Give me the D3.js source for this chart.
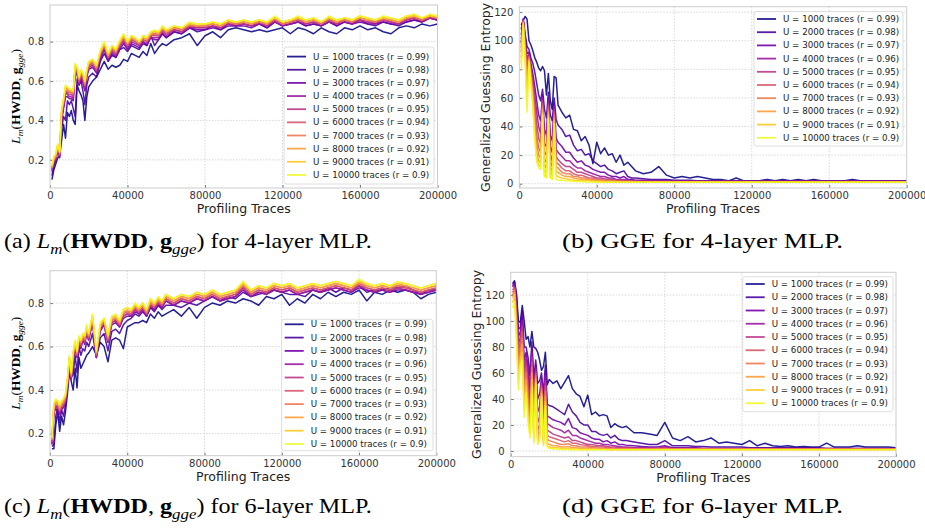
<!DOCTYPE html>
<html>
<head>
<meta charset="utf-8">
<script src="https://cdn.jsdelivr.net/npm/d3@7"></script>
<style>
  body { margin: 0; background: #fff; }
  svg { display: block; }
</style>
</head>
<body>
<svg id="fig" width="925" height="531"></svg>
<script>
// profiling trace counts (shared x grid for every series)
const traces = [1000,2000,3000,4000,5000,6000,7000,8000,9000,10000,11000,12000,13000,14000,15000,16000,17000,18000,19000,20000,
  22000,24000,26000,28000,30000,32000,34000,36000,38000,40000,42000,44000,46000,48000,50000,52000,54000,56000,58000,60000,
  64000,68000,72000,76000,80000,84000,88000,92000,96000,100000,104000,108000,112000,116000,120000,124000,128000,132000,136000,140000,
  144000,148000,152000,156000,160000,164000,168000,172000,176000,180000,184000,188000,192000,196000,200000];

const budgets = [1000, 2000, 3000, 4000, 5000, 6000, 7000, 8000, 9000, 10000];
const corrs = ['0.99', '0.98', '0.97', '0.96', '0.95', '0.94', '0.93', '0.92', '0.91', '0.9'];

const xTicks = [0, 40000, 80000, 120000, 160000, 200000];
const lmTicks = [0.2, 0.4, 0.6, 0.8];
const ggeTicks = [0, 20, 40, 60, 80, 100, 120];

// (a) L_m for 4-layer MLP, one row per budget U
const lm4 = [
  [0.10,0.15,0.18,0.21,0.22,0.30,0.38,0.31,0.44,0.42,0.45,0.40,0.38,0.58,0.55,0.53,0.50,0.40,0.52,0.57,
   0.60,0.62,0.66,0.70,0.66,0.68,0.67,0.68,0.71,0.70,0.74,0.73,0.72,0.75,0.73,0.79,0.74,0.77,0.79,0.78,
   0.81,0.82,0.84,0.78,0.83, 0.85,0.82,0.86,0.87,0.86, 0.85,0.86,0.85,0.86,0.87, 0.84,0.87,0.86,0.84,0.87, 0.85,0.84,0.87,0.86,0.88, 0.86,0.87,0.85,0.84,0.87, 0.88,0.87,0.89,0.88,0.89],
  [0.12,0.17,0.20,0.26,0.23,0.36,0.42,0.40,0.50,0.48,0.50,0.46,0.42,0.61,0.58,0.60,0.55,0.48,0.58,0.62,
   0.64,0.62,0.70,0.74,0.70,0.73,0.72,0.76,0.77,0.75,0.78,0.77,0.76,0.79,0.78,0.83,0.78,0.81,0.84,0.82,
   0.85,0.84,0.87,0.85,0.86, 0.88,0.86,0.89,0.88,0.89, 0.88,0.89,0.87,0.90,0.88, 0.89,0.90,0.88,0.89,0.88, 0.90,0.88,0.90,0.89,0.91, 0.89,0.88,0.90,0.89,0.88, 0.90,0.91,0.90,0.92,0.91],
  [0.14,0.18,0.20,0.25,0.21,0.40,0.46,0.52,0.52,0.51,0.51,0.50,0.64,0.63,0.58,0.61,0.59,0.55,0.62,0.66,
   0.67,0.64,0.71,0.76,0.70,0.74,0.72,0.76,0.79,0.76,0.79,0.78,0.77,0.80,0.78,0.82,0.81,0.81,0.84,0.82,
   0.85,0.84,0.87,0.86,0.86, 0.87,0.86,0.88,0.88,0.88, 0.87,0.89,0.87,0.90,0.88, 0.89,0.90,0.88,0.89,0.88, 0.90,0.88,0.90,0.89,0.90, 0.89,0.89,0.90,0.89,0.89, 0.90,0.91,0.90,0.92,0.91],
  [0.15,0.19,0.20,0.26,0.22,0.41,0.47,0.54,0.53,0.52,0.52,0.51,0.65,0.64,0.59,0.62,0.60,0.56,0.63,0.67,
   0.68,0.65,0.72,0.77,0.71,0.75,0.73,0.77,0.80,0.77,0.80,0.79,0.78,0.80,0.79,0.82,0.82,0.82,0.85,0.83,
   0.86,0.85,0.87,0.87,0.87, 0.88,0.87,0.89,0.88,0.89, 0.88,0.89,0.88,0.90,0.88, 0.89,0.90,0.89,0.90,0.88, 0.90,0.89,0.90,0.89,0.91, 0.90,0.89,0.91,0.90,0.89, 0.91,0.92,0.90,0.92,0.91],
  [0.15,0.19,0.21,0.26,0.22,0.42,0.48,0.55,0.54,0.53,0.53,0.52,0.66,0.65,0.59,0.63,0.61,0.57,0.63,0.68,
   0.69,0.65,0.73,0.77,0.72,0.76,0.74,0.78,0.81,0.78,0.81,0.80,0.78,0.81,0.80,0.83,0.83,0.83,0.86,0.84,
   0.86,0.85,0.88,0.87,0.87, 0.88,0.87,0.89,0.89,0.89, 0.88,0.90,0.88,0.91,0.89, 0.90,0.91,0.89,0.90,0.89, 0.91,0.89,0.91,0.90,0.91, 0.90,0.90,0.91,0.90,0.89, 0.91,0.92,0.91,0.92,0.92],
  [0.16,0.20,0.21,0.27,0.23,0.43,0.49,0.55,0.55,0.54,0.54,0.53,0.67,0.65,0.60,0.64,0.62,0.58,0.64,0.68,
   0.69,0.66,0.74,0.78,0.72,0.76,0.74,0.79,0.82,0.78,0.81,0.80,0.79,0.81,0.80,0.83,0.84,0.83,0.86,0.84,
   0.87,0.86,0.88,0.88,0.88, 0.89,0.88,0.90,0.89,0.90, 0.89,0.90,0.89,0.91,0.89, 0.90,0.91,0.90,0.91,0.89, 0.91,0.90,0.91,0.90,0.92, 0.91,0.90,0.91,0.91,0.90, 0.92,0.92,0.91,0.93,0.92],
  [0.16,0.20,0.22,0.27,0.23,0.44,0.50,0.56,0.56,0.55,0.54,0.54,0.67,0.66,0.61,0.64,0.63,0.58,0.65,0.69,
   0.70,0.67,0.74,0.78,0.73,0.77,0.75,0.79,0.82,0.79,0.82,0.81,0.79,0.82,0.81,0.84,0.84,0.84,0.87,0.85,
   0.87,0.86,0.89,0.88,0.88, 0.89,0.88,0.90,0.89,0.90, 0.89,0.90,0.89,0.92,0.89, 0.90,0.92,0.90,0.91,0.89, 0.92,0.90,0.91,0.90,0.92, 0.91,0.90,0.92,0.91,0.90, 0.92,0.93,0.91,0.93,0.92],
  [0.16,0.21,0.22,0.27,0.24,0.45,0.50,0.57,0.56,0.55,0.55,0.54,0.68,0.66,0.61,0.65,0.63,0.59,0.65,0.69,
   0.70,0.67,0.75,0.79,0.73,0.77,0.75,0.80,0.83,0.79,0.82,0.81,0.80,0.82,0.81,0.84,0.85,0.84,0.87,0.85,
   0.87,0.87,0.89,0.88,0.89, 0.89,0.88,0.90,0.90,0.90, 0.89,0.91,0.89,0.92,0.90, 0.91,0.92,0.90,0.91,0.90, 0.92,0.90,0.92,0.91,0.92, 0.91,0.91,0.92,0.91,0.90, 0.92,0.93,0.92,0.93,0.92],
  [0.17,0.21,0.23,0.28,0.24,0.45,0.51,0.57,0.57,0.56,0.55,0.55,0.68,0.67,0.62,0.65,0.64,0.60,0.66,0.70,
   0.71,0.68,0.75,0.79,0.74,0.78,0.76,0.80,0.83,0.80,0.83,0.82,0.80,0.83,0.82,0.85,0.85,0.85,0.87,0.86,
   0.88,0.87,0.89,0.89,0.89, 0.90,0.89,0.91,0.90,0.91, 0.90,0.91,0.90,0.92,0.90, 0.91,0.92,0.91,0.92,0.90, 0.92,0.91,0.92,0.91,0.93, 0.92,0.91,0.92,0.92,0.91, 0.93,0.93,0.92,0.93,0.93],
  [0.17,0.22,0.23,0.28,0.24,0.46,0.51,0.58,0.57,0.56,0.56,0.55,0.69,0.67,0.62,0.66,0.64,0.60,0.66,0.70,
   0.71,0.68,0.76,0.80,0.74,0.78,0.76,0.81,0.84,0.80,0.83,0.82,0.80,0.83,0.82,0.85,0.86,0.85,0.88,0.86,
   0.88,0.87,0.90,0.89,0.89, 0.90,0.89,0.91,0.90,0.91, 0.90,0.91,0.90,0.93,0.90, 0.91,0.93,0.91,0.92,0.90, 0.93,0.91,0.92,0.91,0.93, 0.92,0.91,0.93,0.92,0.91, 0.93,0.94,0.92,0.94,0.93]
];

// (b) GGE for 4-layer MLP
const gge4 = [
  [111,114,117,115,100,97,93,88,85,81,79,82,79,62,77,58,52,75,74,55,
   50,46,48,38,37,30,33,27,14,29,21,25,20,21,15,20,13,15,12,9,
   7,8,12,6,4, 5,4,5,4,3, 3,2,4,2,2, 2,3,2,3,2, 3,2,3,2,2, 2,2,3,2,2, 2,2,2,2,2],
  [108,115,105,96,94,88,84,78,70,62,58,66,52,46,64,48,44,60,45,41,
   38,33,34,27,23,24,20,21,16,14,12,13,10,9,7,8,9,5,4,4,
   3.5,3,3,3,2.5, 2.5,2.5,2,2,2, 2,2,2,2,2, 2,2,2,2,2, 2,2,2,2,2, 2,2,2,2,2, 2,2,2,2,2],
  [104,115,103,91,92,84,77,68,58,48,44,62,38,34,60,34,30,56,32,29,
   26,22,22,18,15,16,13,12,10,9,8,8,6,5,5,4,5,3,3,2.5,
   2.5,2,2,2,2, 2,2,1.8,1.8,1.8, 1.8,1.8,1.8,1.8,1.8, 1.8,1.8,1.8,1.8,1.8, 1.8,1.8,1.8,1.8,1.8, 1.8,1.8,1.8,1.8,1.8, 1.8,1.8,1.8,1.8,1.8],
  [101,115,101,87,91,82,73,62,50,40,35,60,28,26,58,26,22,54,24,22,
   19,16,16,13,11,11,9,8,7,6,5,5,4,4,3,3,3,2.5,2,2,
   2,1.8,1.8,1.8,1.6, 1.6,1.6,1.6,1.6,1.6, 1.6,1.6,1.6,1.6,1.6, 1.6,1.6,1.6,1.6,1.6, 1.6,1.6,1.6,1.6,1.6, 1.6,1.6,1.6,1.6,1.6, 1.6,1.6,1.6,1.6,1.6],
  [98,114,99,82,90,80,70,57,42,32,28,58,22,20,56,20,16,52,19,17,
   14,12,12,10,8,8,7,6,5,4,4,3.5,3,3,2.5,2.5,2,2,2,1.5,
   1.5,1.5,1.5,1.5,1.5, 1.5,1.5,1.5,1.5,1.5, 1.5,1.5,1.5,1.5,1.5, 1.5,1.5,1.5,1.5,1.5, 1.5,1.5,1.5,1.5,1.5, 1.5,1.5,1.5,1.5,1.5, 1.5,1.5,1.5,1.5,1.5],
  [95,114,97,76,89,78,67,52,34,25,22,56,17,15,54,15,12,50,15,14,
   11,9,9,7,6,6,5,4,4,3,3,2.5,2.5,2,2,2,1.5,1.5,1.5,1.5,
   1.4,1.4,1.4,1.4,1.4, 1.4,1.4,1.4,1.4,1.4, 1.4,1.4,1.4,1.4,1.4, 1.4,1.4,1.4,1.4,1.4, 1.4,1.4,1.4,1.4,1.4, 1.4,1.4,1.4,1.4,1.4, 1.4,1.4,1.4,1.4,1.4],
  [92,113,95,70,88,76,64,46,28,20,18,54,13,11,52,11,9,48,12,11,
   8,7,7,5,5,4,4,3,3,2.5,2.5,2,2,2,1.5,1.5,1.5,1.5,1.5,1.3,
   1.3,1.3,1.3,1.3,1.3, 1.3,1.3,1.3,1.3,1.3, 1.3,1.3,1.3,1.3,1.3, 1.3,1.3,1.3,1.3,1.3, 1.3,1.3,1.3,1.3,1.3, 1.3,1.3,1.3,1.3,1.3, 1.3,1.3,1.3,1.3,1.3],
  [88,113,93,64,87,74,60,40,22,16,15,52,9,8,50,8,6,46,9,8,
   6,5,5,4,3.5,3,3,2.5,2,2,2,1.5,1.5,1.5,1.5,1.2,1.2,1.2,1.2,1.2,
   1.2,1.2,1.2,1.2,1.2, 1.2,1.2,1.2,1.2,1.2, 1.2,1.2,1.2,1.2,1.2, 1.2,1.2,1.2,1.2,1.2, 1.2,1.2,1.2,1.2,1.2, 1.2,1.2,1.2,1.2,1.2, 1.2,1.2,1.2,1.2,1.2],
  [84,112,90,58,86,72,56,34,18,13,12,50,6,5,48,5,4,44,6,5,
   4,3.5,3,2.5,2.5,2,2,2,1.5,1.5,1.5,1.2,1.2,1.2,1.2,1.1,1.1,1.1,1.1,1.1,
   1.1,1.1,1.1,1.1,1.1, 1.1,1.1,1.1,1.1,1.1, 1.1,1.1,1.1,1.1,1.1, 1.1,1.1,1.1,1.1,1.1, 1.1,1.1,1.1,1.1,1.1, 1.1,1.1,1.1,1.1,1.1, 1.1,1.1,1.1,1.1,1.1],
  [80,111,85,50,85,70,52,30,15,11,10,48,5,4,46,4,3,42,3,2.5,
   2.5,2,2,1.5,1.5,1.5,1.2,1.2,1.2,1,1,1,1,1,1,1,1,1,1,1,
   1,1,1,1,1, 1,1,1,1,1, 1,1,1,1,1, 1,1,1,1,1, 1,1,1,1,1, 1,1,1,1,1, 1,1,1,1,1]
];

// (c) L_m for 6-layer MLP
const lm6 = [
  [0.13,0.13,0.24,0.30,0.21,0.28,0.24,0.30,0.38,0.48,0.44,0.40,0.50,0.41,0.55,0.50,0.52,0.54,0.56,0.57,
   0.60,0.56,0.62,0.60,0.53,0.63,0.64,0.63,0.59,0.69,0.70,0.71,0.71,0.72,0.71,0.75,0.73,0.76,0.74,0.75,
   0.77,0.74,0.78,0.73,0.78, 0.80,0.79,0.81,0.80,0.82, 0.81,0.79,0.83,0.82,0.84, 0.79,0.82,0.80,0.84,0.82, 0.85,0.83,0.85,0.84,0.86, 0.81,0.85,0.84,0.86,0.85, 0.86,0.85,0.82,0.84,0.85],
  [0.14,0.15,0.28,0.33,0.25,0.31,0.28,0.33,0.42,0.52,0.46,0.47,0.56,0.48,0.60,0.56,0.59,0.58,0.62,0.60,
   0.66,0.55,0.64,0.66,0.58,0.67,0.68,0.66,0.70,0.72,0.73,0.75,0.74,0.76,0.74,0.78,0.76,0.79,0.77,0.79,
   0.79,0.78,0.80,0.79,0.81, 0.83,0.81,0.83,0.82,0.85, 0.83,0.84,0.85,0.86,0.85, 0.84,0.84,0.83,0.86,0.85, 0.87,0.85,0.87,0.86,0.88, 0.85,0.86,0.86,0.87,0.87, 0.88,0.86,0.84,0.86,0.86],
  [0.15,0.30,0.31,0.31,0.29,0.31,0.32,0.34,0.41,0.52,0.45,0.54,0.59,0.55,0.61,0.59,0.63,0.61,0.66,0.63,
   0.71,0.55,0.67,0.70,0.62,0.70,0.71,0.69,0.73,0.74,0.74,0.76,0.75,0.77,0.74,0.78,0.77,0.79,0.78,0.81,
   0.79,0.81,0.80,0.82,0.81, 0.83,0.81,0.82,0.83,0.86, 0.83,0.85,0.84,0.86,0.85, 0.86,0.84,0.85,0.86,0.85, 0.86,0.87,0.86,0.85,0.87, 0.86,0.85,0.86,0.85,0.86, 0.86,0.85,0.84,0.85,0.86],
  [0.15,0.30,0.32,0.32,0.29,0.32,0.32,0.35,0.41,0.53,0.45,0.55,0.60,0.55,0.62,0.60,0.63,0.62,0.67,0.63,
   0.72,0.55,0.68,0.70,0.62,0.71,0.72,0.69,0.74,0.75,0.74,0.77,0.75,0.77,0.74,0.79,0.77,0.80,0.78,0.81,
   0.79,0.81,0.80,0.82,0.81, 0.83,0.81,0.82,0.83,0.87, 0.83,0.85,0.84,0.86,0.85, 0.86,0.84,0.85,0.86,0.85, 0.86,0.87,0.86,0.85,0.88, 0.86,0.85,0.86,0.85,0.87, 0.86,0.85,0.84,0.85,0.86],
  [0.16,0.31,0.33,0.32,0.30,0.32,0.33,0.35,0.42,0.53,0.46,0.55,0.60,0.56,0.62,0.60,0.64,0.62,0.67,0.64,
   0.72,0.56,0.68,0.71,0.63,0.71,0.72,0.70,0.74,0.75,0.75,0.77,0.76,0.78,0.75,0.79,0.78,0.80,0.79,0.82,
   0.80,0.82,0.81,0.83,0.82, 0.84,0.82,0.83,0.84,0.87, 0.84,0.86,0.85,0.87,0.86, 0.87,0.85,0.86,0.87,0.86, 0.87,0.88,0.87,0.86,0.88, 0.87,0.86,0.87,0.86,0.87, 0.87,0.86,0.85,0.86,0.87],
  [0.16,0.32,0.33,0.33,0.31,0.33,0.34,0.36,0.43,0.54,0.46,0.56,0.61,0.56,0.63,0.61,0.64,0.63,0.68,0.64,
   0.73,0.56,0.69,0.71,0.63,0.72,0.73,0.70,0.75,0.76,0.75,0.78,0.76,0.78,0.75,0.80,0.78,0.81,0.79,0.82,
   0.80,0.82,0.81,0.83,0.82, 0.84,0.82,0.83,0.84,0.88, 0.84,0.86,0.85,0.87,0.86, 0.87,0.85,0.86,0.87,0.86, 0.87,0.88,0.87,0.86,0.89, 0.87,0.86,0.87,0.86,0.88, 0.87,0.86,0.85,0.86,0.87],
  [0.17,0.32,0.34,0.34,0.31,0.34,0.34,0.37,0.43,0.54,0.47,0.56,0.61,0.57,0.63,0.62,0.65,0.63,0.68,0.65,
   0.73,0.57,0.69,0.72,0.64,0.72,0.73,0.71,0.76,0.76,0.76,0.78,0.77,0.79,0.76,0.80,0.79,0.81,0.80,0.83,
   0.81,0.83,0.82,0.84,0.83, 0.85,0.83,0.84,0.85,0.88, 0.85,0.87,0.86,0.88,0.87, 0.88,0.86,0.87,0.88,0.87, 0.88,0.89,0.88,0.87,0.89, 0.88,0.87,0.88,0.87,0.88, 0.88,0.87,0.86,0.87,0.88],
  [0.17,0.33,0.35,0.34,0.32,0.34,0.35,0.37,0.44,0.55,0.47,0.57,0.62,0.57,0.64,0.62,0.65,0.64,0.69,0.65,
   0.74,0.57,0.70,0.72,0.64,0.73,0.74,0.71,0.76,0.77,0.76,0.79,0.77,0.79,0.76,0.81,0.79,0.82,0.80,0.83,
   0.81,0.83,0.82,0.84,0.83, 0.85,0.83,0.84,0.85,0.89, 0.85,0.87,0.86,0.88,0.87, 0.88,0.86,0.87,0.88,0.87, 0.88,0.89,0.88,0.87,0.90, 0.88,0.87,0.88,0.87,0.89, 0.88,0.87,0.86,0.87,0.88],
  [0.18,0.34,0.35,0.35,0.33,0.35,0.36,0.38,0.45,0.55,0.48,0.57,0.62,0.58,0.64,0.63,0.66,0.65,0.69,0.66,
   0.74,0.58,0.70,0.73,0.65,0.74,0.74,0.72,0.77,0.78,0.77,0.79,0.78,0.80,0.77,0.82,0.80,0.82,0.81,0.84,
   0.82,0.84,0.83,0.85,0.84, 0.86,0.84,0.85,0.86,0.89, 0.86,0.88,0.87,0.89,0.88, 0.89,0.87,0.88,0.89,0.88, 0.89,0.90,0.89,0.88,0.90, 0.89,0.88,0.89,0.88,0.89, 0.89,0.88,0.87,0.88,0.89],
  [0.18,0.34,0.36,0.35,0.33,0.35,0.36,0.38,0.45,0.56,0.48,0.58,0.63,0.58,0.65,0.63,0.66,0.65,0.70,0.66,
   0.75,0.58,0.71,0.73,0.65,0.74,0.75,0.72,0.77,0.78,0.77,0.80,0.78,0.80,0.77,0.82,0.80,0.83,0.81,0.84,
   0.82,0.84,0.83,0.85,0.84, 0.86,0.84,0.85,0.86,0.90, 0.86,0.88,0.87,0.89,0.88, 0.89,0.87,0.88,0.89,0.88, 0.89,0.90,0.89,0.88,0.91, 0.89,0.88,0.89,0.88,0.90, 0.89,0.88,0.87,0.88,0.89]
];

// (d) GGE for 6-layer MLP
const gge6 = [
  [129,131,121,100,99,112,100,86,88,80,92,80,79,76,70,62,65,76,51,55,
   52,54,48,53,58,48,44,42,34,43,28,30,27,28,27,18,21,19,18,19,
   14,14,13,12,22, 10,8,11,7,8, 10,6,7,6,5, 8,4,6,4,3.5, 4,3,3.5,3,3, 6,3,3,3,4, 3,3,3,3,2.5],
  [128,130,119,94,95,108,80,80,72,58,84,56,70,52,54,60,44,66,36,35,
   34,32,30,28,36,30,27,22,20,20,15,15,13,12,13,10,12,9,8,8,
   7,6,5,5,8, 4,4,4,3.5,3.5, 3,3,3,3,3, 2.5,2.5,2.5,2.5,2.5, 2.5,2.5,2.5,2.5,2.5, 2,2,2,2,2, 2,2,2,2,2],
  [127,129,116,88,92,104,70,76,64,48,80,44,66,40,44,56,32,62,27,26,
   24,23,22,20,25,18,17,14,13,12,10,9,9,7,8,6,7,5,5,4.5,
   4,3.5,3,3,4, 2.5,2.5,2.5,2.5,2, 2,2,2,2,2, 2,2,2,2,2, 2,2,2,2,2, 2,2,2,2,2, 2,2,2,2,2],
  [126,128,112,82,88,100,62,72,58,40,76,34,64,30,34,54,24,58,21,20,
   18,17,16,14,16,12,12,10,9,8,7,6,6,5,5,4.5,4,3.5,3,3,
   2.5,2.5,2.5,2,3, 2,2,2,2,2, 1.8,1.8,1.8,1.8,1.8, 1.8,1.8,1.8,1.8,1.8, 1.8,1.8,1.8,1.8,1.8, 1.8,1.8,1.8,1.8,1.8, 1.8,1.8,1.8,1.8,1.8],
  [124,126,108,76,84,96,56,68,52,33,72,26,62,22,26,52,16,54,16,15,
   13,12,11,10,11,8,8,7,6,5,5,4.5,4,4,3.5,3,3,2.5,2.5,2.5,
   2,2,2,2,2.5, 1.8,1.8,1.8,1.8,1.8, 1.5,1.5,1.5,1.5,1.5, 1.5,1.5,1.5,1.5,1.5, 1.5,1.5,1.5,1.5,1.5, 1.5,1.5,1.5,1.5,1.5, 1.5,1.5,1.5,1.5,1.5],
  [122,125,104,70,80,92,50,64,46,27,68,20,60,16,20,50,12,50,12,11,
   10,9,8,7,8,6,6,5,4.5,4,3.5,3.5,3,3,2.5,2.5,2,2,2,2,
   1.8,1.8,1.8,1.8,2, 1.5,1.5,1.5,1.5,1.5, 1.5,1.5,1.5,1.5,1.5, 1.5,1.5,1.5,1.5,1.5, 1.5,1.5,1.5,1.5,1.5, 1.5,1.5,1.5,1.5,1.5, 1.5,1.5,1.5,1.5,1.5],
  [120,124,100,64,76,87,44,60,40,22,64,15,58,12,16,48,9,46,9,8,
   7,6,5,5,5.5,4,4,3,3,3,2.5,2.5,2,2,2,1.5,1.5,1.5,1.5,1.5,
   1.3,1.3,1.3,1.3,1.3, 1.3,1.3,1.3,1.3,1.3, 1.3,1.3,1.3,1.3,1.3, 1.3,1.3,1.3,1.3,1.3, 1.3,1.3,1.3,1.3,1.3, 1.3,1.3,1.3,1.3,1.3, 1.3,1.3,1.3,1.3,1.3],
  [118,122,95,58,73,82,38,55,34,17,60,11,56,9,12,46,7,42,6,5,
   4,4,3,3,3.5,2.5,2.5,2,2,2,1.5,1.5,1.5,1.5,1.2,1.2,1.2,1.2,1.2,1.2,
   1.2,1.2,1.2,1.2,1.2, 1.2,1.2,1.2,1.2,1.2, 1.2,1.2,1.2,1.2,1.2, 1.2,1.2,1.2,1.2,1.2, 1.2,1.2,1.2,1.2,1.2, 1.2,1.2,1.2,1.2,1.2, 1.2,1.2,1.2,1.2,1.2],
  [114,120,90,52,70,76,32,50,28,13,55,8,54,7,10,44,5,38,4,3,
   2.5,2.5,2,2,2,1.5,1.5,1.2,1.2,1.2,1.1,1.1,1.1,1.1,1.1,1.1,1.1,1.1,1.1,1.1,
   1.1,1.1,1.1,1.1,1.1, 1.1,1.1,1.1,1.1,1.1, 1.1,1.1,1.1,1.1,1.1, 1.1,1.1,1.1,1.1,1.1, 1.1,1.1,1.1,1.1,1.1, 1.1,1.1,1.1,1.1,1.1, 1.1,1.1,1.1,1.1,1.1],
  [110,115,85,47,67,70,26,45,22,10,50,6,52,5,8,42,4,35,3,2,
   1.5,1.5,1.2,1.2,1.2,1,1,1,1,1,1,1,1,1,1,1,1,1,1,1,
   1,1,1,1,1, 1,1,1,1,1, 1,1,1,1,1, 1,1,1,1,1, 1,1,1,1,1, 1,1,1,1,1, 1,1,1,1,1]
];

const fig = d3.select('#fig');
fig.append('rect').attr('width', 925).attr('height', 531).attr('fill', '#fff');

const colors = budgets.map((b, i) => d3.interpolatePlasma(i / 9));
const sans = '"DejaVu Sans", sans-serif';
const serif = '"Liberation Serif", "Times New Roman", serif';

// italic L_m ( bold HWDD , bold g _gge )
const lmParts = [
  {t: 'L', italic: true}, {t: 'm', italic: true, sub: true}, {t: '('},
  {t: 'HWDD', bold: true}, {t: ', '}, {t: 'g', bold: true},
  {t: 'gge', italic: true, sub: true}, {t: ')'}
];

function richText(parent, parts, size) {
  const txt = parent.append('text')
    .attr('font-family', serif)
    .attr('font-size', size)
    .attr('fill', '#000')
    .style('white-space', 'pre');
  let shift = 0;
  parts.forEach(p => {
    const target = p.sub ? size * 0.25 : 0;
    const ts = txt.append('tspan').text(p.t).attr('dy', target - shift);
    shift = target;
    if (p.sub) ts.attr('font-size', size * 0.7);
    if (p.italic) ts.attr('font-style', 'italic');
    if (p.bold) ts.attr('font-weight', 'bold');
  });
  return txt;
}

function drawPanel(p) {
  const g = fig.append('g');
  const x = d3.scaleLinear().domain([0, 200000]).range([p.left, p.right]);
  const y = d3.scaleLinear().domain(p.yDomain).range([p.bottom, p.top]);

  // grid
  g.append('g').selectAll('line').data(xTicks.slice(1, -1)).join('line')
    .attr('x1', d => x(d)).attr('x2', d => x(d))
    .attr('y1', p.top).attr('y2', p.bottom);
  g.append('g').selectAll('line').data(p.yTicks).join('line')
    .attr('x1', p.left).attr('x2', p.right)
    .attr('y1', d => y(d)).attr('y2', d => y(d));
  g.selectAll('g line')
    .attr('stroke', '#cfcfcf').attr('stroke-width', 0.8).attr('stroke-dasharray', '1.5,1.5');

  // axes, ticks pointing inwards
  const xa = g.append('g').attr('transform', `translate(0,${p.bottom})`)
    .call(d3.axisBottom(x).tickValues(xTicks).tickFormat(d3.format('d')).tickSize(-3).tickPadding(4));
  const ya = g.append('g').attr('transform', `translate(${p.left},0)`)
    .call(d3.axisLeft(y).tickValues(p.yTicks).tickFormat(p.fmt).tickSize(-3).tickPadding(6));
  [xa, ya].forEach(a => {
    a.select('.domain').remove();
    a.selectAll('line').attr('stroke', '#777');
    a.selectAll('text').attr('font-family', sans).attr('font-size', 10).attr('fill', '#333');
  });

  // series
  const clipId = 'clip' + p.id;
  g.append('clipPath').attr('id', clipId).append('rect')
    .attr('x', p.left).attr('y', p.top).attr('width', p.right - p.left).attr('height', p.bottom - p.top);
  const line = d3.line()
    .defined((d, i) => i < traces.length)
    .x((d, i) => x(traces[i]))
    .y(d => y(d));
  g.append('g').attr('clip-path', `url(#${clipId})`)
    .selectAll('path').data(p.data).join('path')
    .attr('d', line)
    .attr('fill', 'none')
    .attr('stroke', (d, i) => colors[i])
    .attr('stroke-width', 1.5)
    .attr('stroke-opacity', 0.9)
    .attr('stroke-linejoin', 'round');

  // frame
  g.append('rect')
    .attr('x', p.left).attr('y', p.top)
    .attr('width', p.right - p.left).attr('height', p.bottom - p.top)
    .attr('fill', 'none').attr('stroke', '#cccccc').attr('stroke-width', 1);

  // x label
  g.append('text')
    .attr('x', (p.left + p.right) / 2).attr('y', p.bottom + 25)
    .attr('text-anchor', 'middle')
    .attr('font-family', sans).attr('font-size', 12.5).attr('fill', '#222')
    .text('Profiling Traces');

  // y label
  const yl = g.append('g').attr('transform', `translate(${p.yLabelX},${(p.top + p.bottom) / 2}) rotate(-90)`);
  if (p.mathLabel) {
    const t = richText(yl, lmParts, 13).attr('text-anchor', 'middle');
    const w = t.node().getComputedTextLength();
    t.attr('transform', `scale(${p.yLabelLen / w},1)`);
  } else {
    yl.append('text').attr('text-anchor', 'middle')
      .attr('font-family', sans).attr('font-size', 12.5).attr('fill', '#222')
      .text('Generalized Guessing Entropy');
  }

  // legend
  const lg = p.legend;
  const leg = g.append('g');
  leg.append('rect')
    .attr('x', lg.x).attr('y', lg.y).attr('width', lg.w).attr('height', lg.h)
    .attr('rx', 2.5)
    .attr('fill', '#fff').attr('fill-opacity', 0.85)
    .attr('stroke', '#d6d6d6').attr('stroke-width', 0.8);
  const rows = leg.selectAll('g.row').data(budgets).join('g')
    .attr('transform', (d, i) => `translate(${lg.x + 3},${lg.y0 + i * lg.step})`);
  rows.append('line')
    .attr('x1', 0).attr('x2', 19)
    .attr('stroke', (d, i) => colors[i])
    .attr('stroke-width', 1.8).attr('stroke-opacity', 0.9);
  rows.append('text')
    .attr('x', 26).attr('dy', '0.35em')
    .attr('font-family', sans).attr('font-size', 8.7).attr('fill', '#222')
    .text((d, i) => `U = ${d} traces (r = ${corrs[i]})`);
}

const panels = [
  {id: 'a', data: lm4, left: 50, right: 437.5, top: 5, bottom: 188, yDomain: [0.057, 0.986],
   yTicks: lmTicks, fmt: d3.format('.1f'), mathLabel: true, yLabelX: 20, yLabelLen: 95,
   legend: {x: 284, y: 47, w: 150, h: 137, y0: 56.6, step: 13.15}},
  {id: 'b', data: gge4, left: 519.3, right: 906.7, top: 6.7, bottom: 188, yDomain: [-3, 123.8],
   yTicks: ggeTicks, fmt: d3.format('d'), mathLabel: false, yLabelX: 489.5,
   legend: {x: 754, y: 11.5, w: 149, h: 134.5, y0: 19, step: 13.2}},
  {id: 'c', data: lm6, left: 50, right: 436.3, top: 270.7, bottom: 455.7, yDomain: [0.098, 0.949],
   yTicks: lmTicks, fmt: d3.format('.1f'), mathLabel: true, yLabelX: 20, yLabelLen: 93,
   legend: {x: 281.7, y: 319.3, w: 151.3, h: 131.4, y0: 324.3, step: 13.3}},
  {id: 'd', data: gge6, left: 510.7, right: 896, top: 272.3, bottom: 456.7, yDomain: [-4.4, 137.5],
   yTicks: ggeTicks, fmt: d3.format('d'), mathLabel: false, yLabelX: 480.5,
   legend: {x: 742.7, y: 276.7, w: 150.3, h: 135, y0: 284, step: 13.25}}
];

panels.forEach(drawPanel);

// sub-figure captions
const captions = [
  {x: 4, y: 248, w: 368, parts: [{t: '(a) '}, ...lmParts, {t: ' for 4-layer MLP.'}]},
  {x: 562, y: 248, w: 281, parts: [{t: '(b) GGE for 4-layer MLP.'}]},
  {x: 4, y: 513, w: 368, parts: [{t: '(c) '}, ...lmParts, {t: ' for 6-layer MLP.'}]},
  {x: 562, y: 513, w: 281, parts: [{t: '(d) GGE for 6-layer MLP.'}]}
];
captions.forEach(c => {
  const cg = fig.append('g').attr('transform', `translate(${c.x},${c.y})`);
  const t = richText(cg, c.parts, 22);
  const w = t.node().getComputedTextLength();
  t.attr('transform', `scale(${c.w / w},1)`);
});
</script>
</body>
</html>
